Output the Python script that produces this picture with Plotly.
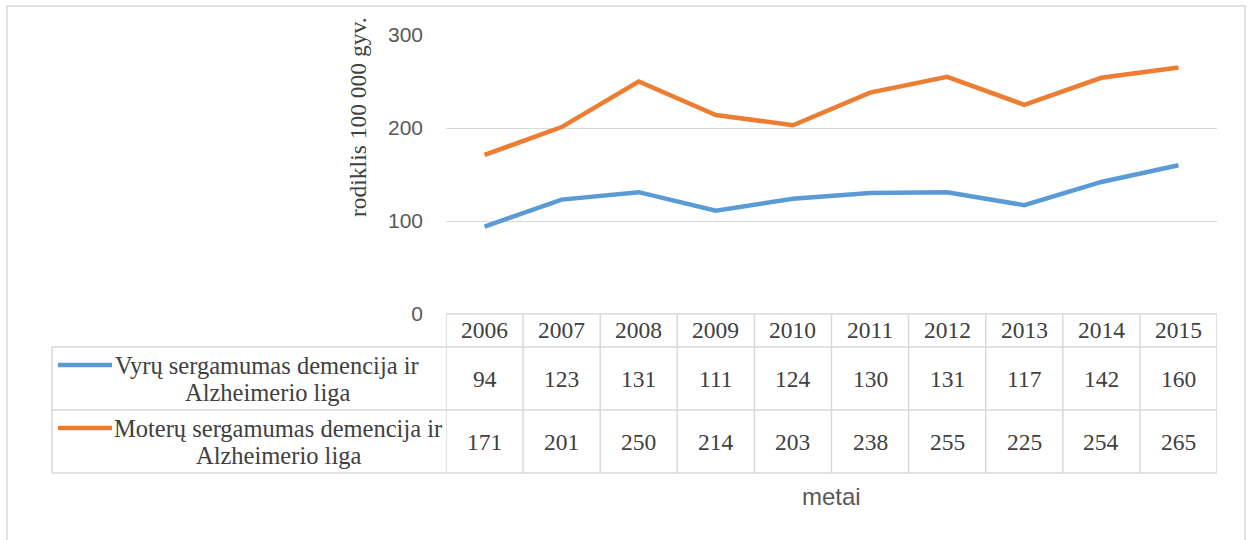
import plotly.graph_objects as go

years = ["2006", "2007", "2008", "2009", "2010", "2011", "2012", "2013", "2014", "2015"]
men = [94, 123, 131, 111, 124, 130, 131, 117, 142, 160]
women = [171, 201, 250, 214, 203, 238, 255, 225, 254, 265]
men_label = ["Vyrų sergamumas demencija ir", "Alzheimerio liga"]
women_label = ["Moterų sergamumas demencija ir", "Alzheimerio liga"]
y_title = "rodiklis 100 000 gyv."
x_title = "metai"
y_ticks = [0, 100, 200, 300]

BLUE = "#5B9BD5"
ORANGE = "#ED7D31"
GRID = "#D9D9D9"
SERIF = "Liberation Serif"
SANS = "Liberation Sans"
TXT = "#404040"

W, H = 1251, 540
L, R, T, B = 446, 34, 35, 226
PW, PH = W - L - R, H - T - B

def px(x):
    return (x - L) / PW

def py(y):
    return (H - B - y) / PH

n = len(years)
xs = list(range(n))

fig = go.Figure()
fig.add_trace(go.Scatter(x=xs, y=men, mode="lines", line=dict(color=BLUE, width=4.5),
                         hoverinfo="skip", showlegend=False))
fig.add_trace(go.Scatter(x=xs, y=women, mode="lines", line=dict(color=ORANGE, width=4.5),
                         hoverinfo="skip", showlegend=False))

shapes = []
line_style = dict(color=GRID, width=1.5)
# outer border
shapes.append(dict(type="rect", xref="paper", yref="paper", x0=px(7), x1=px(1245),
                   y0=py(546), y1=py(6), line=dict(color=GRID, width=1.5)))
# table horizontals
shapes.append(dict(type="line", xref="x", yref="paper", x0=-0.5, x1=n - 0.5,
                   y0=py(314), y1=py(314), line=line_style))
for yy in (347, 410, 473):
    shapes.append(dict(type="line", xref="paper", yref="paper", x0=px(52), x1=1,
                       y0=py(yy), y1=py(yy), line=line_style))
# table verticals
shapes.append(dict(type="line", xref="paper", yref="paper", x0=px(52), x1=px(52),
                   y0=py(347), y1=py(473), line=line_style))
for k in range(n + 1):
    shapes.append(dict(type="line", xref="x", yref="paper", x0=k - 0.5, x1=k - 0.5,
                       y0=py(314), y1=py(473), line=line_style))
# legend keys
shapes.append(dict(type="line", xref="paper", yref="paper", x0=px(58), x1=px(112),
                   y0=py(365), y1=py(365), line=dict(color=BLUE, width=4.5)))
shapes.append(dict(type="line", xref="paper", yref="paper", x0=px(58), x1=px(112),
                   y0=py(428), y1=py(428), line=dict(color=ORANGE, width=4.5)))

ann = []
tfont = dict(family=SERIF, size=23.5, color=TXT)
lfont = dict(family=SERIF, size=24.5, color=TXT)
for i in range(n):
    ann.append(dict(x=i, y=py(330), xref="x", yref="paper", text=years[i],
                    showarrow=False, font=tfont, xanchor="center", yanchor="middle"))
    ann.append(dict(x=i, y=py(379), xref="x", yref="paper", text=str(men[i]),
                    showarrow=False, font=tfont, xanchor="center", yanchor="middle"))
    ann.append(dict(x=i, y=py(442), xref="x", yref="paper", text=str(women[i]),
                    showarrow=False, font=tfont, xanchor="center", yanchor="middle"))
for txt, cx, cy in ((men_label[0], 267, 365), (men_label[1], 267.5, 392),
                    (women_label[0], 277.5, 428), (women_label[1], 278, 455)):
    ann.append(dict(x=px(cx), y=py(cy), xref="paper", yref="paper", text=txt,
                    showarrow=False, font=lfont, xanchor="center", yanchor="middle"))
ann.append(dict(x=px(358), y=py(117), xref="paper", yref="paper", text=y_title,
                textangle=-90, showarrow=False, font=tfont, xanchor="center", yanchor="middle"))
ann.append(dict(x=px(831), y=py(497), xref="paper", yref="paper", text=x_title,
                showarrow=False, font=dict(family=SANS, size=24, color="#595959"),
                xanchor="center", yanchor="middle"))

fig.update_layout(
    width=W, height=H, margin=dict(l=L, r=R, t=T, b=B, pad=0),
    paper_bgcolor="white", plot_bgcolor="white",
    xaxis=dict(range=[-0.5, n - 0.5], showticklabels=False, showgrid=False,
               zeroline=False, showline=False, ticks="", fixedrange=True),
    yaxis=dict(range=[0, 300], tickvals=y_ticks, showgrid=True, gridcolor=GRID, gridwidth=1,
               zeroline=False, showline=False, ticks="", ticklabelstandoff=22,
               tickfont=dict(family=SANS, size=21, color="#595959"), fixedrange=True),
    shapes=shapes, annotations=ann, showlegend=False,
)
fig.write_html("out.html", config={"displayModeBar": False})
